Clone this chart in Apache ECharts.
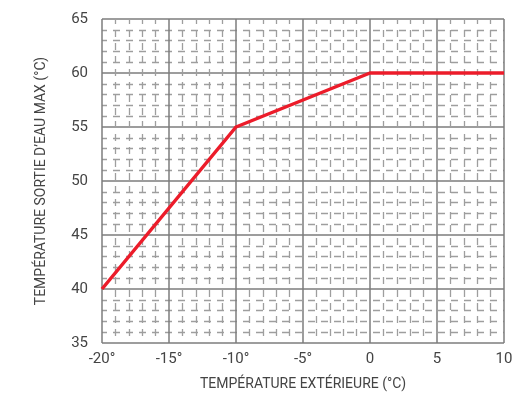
<!DOCTYPE html>
<html><head><meta charset="utf-8">
<script src="https://cdn.jsdelivr.net/npm/echarts@6/dist/echarts.min.js"></script>
<style>html,body{margin:0;padding:0;background:#fff}#c{width:512px;height:404px}</style>
</head><body><div id="c"></div>
<script>
var xValues = [-20, -10, 0, 10];
var yValues = [40, 55, 60, 60];
var xTickLabels = {'-20':'-20°','-15':'-15°','-10':'-10°','-5':'-5°','0':'0','5':'5','10':'10'};
var xTitle = 'TEMPÉRATURE EXTÉRIEURE (°C)';
var yTitle = 'TEMPÉRATURE SORTIE D\u2019EAU MAX (°C)';
var FONT = '"Liberation Sans Narrow", "Roboto", sans-serif';
var chart = echarts.init(document.getElementById('c'), null, {renderer:'canvas'});
var major = {show:true, lineStyle:{color:'#7d7d7d', width:1.5}};
var minor = {show:true, lineStyle:{color:'#9e9e9e', width:1.3, type:[7,6], dashOffset:2}};
chart.setOption({
  animation:false,
  grid:{left:102, right:8, top:19, bottom:61, containLabel:false, outerBoundsMode:'none'},
  xAxis:{type:'value', min:-20, max:10, interval:5,
    name:xTitle, nameLocation:'middle', nameGap:34,
    nameTextStyle:{fontFamily:FONT, fontSize:14, color:'#444'},
    axisLine:{show:false}, axisTick:{show:false},
    axisLabel:{fontFamily:FONT, fontSize:15, color:'#444', margin:9},
    splitLine:major,
    minorTick:{show:false, splitNumber:5},
    minorSplitLine:minor},
  yAxis:{type:'value', min:35, max:65, interval:5,
    name:yTitle, nameLocation:'middle', nameGap:54,
    nameTextStyle:{fontFamily:FONT, fontSize:14, color:'#444'},
    axisLine:{show:false}, axisTick:{show:false},
    axisLabel:{fontFamily:FONT, fontSize:15, color:'#444', margin:14},
    splitLine:major,
    minorTick:{show:false, splitNumber:5},
    minorSplitLine:minor},
  series:[{type:'line', data:xValues.map(function(x,i){return [x,yValues[i]];}),
    symbol:'none', lineStyle:{color:'#ec1c2a', width:3.5}, z:5}]
});
chart.setOption({xAxis:{axisLabel:{formatter:function(v){return xTickLabels[String(v)];}}}});
</script></body></html>
